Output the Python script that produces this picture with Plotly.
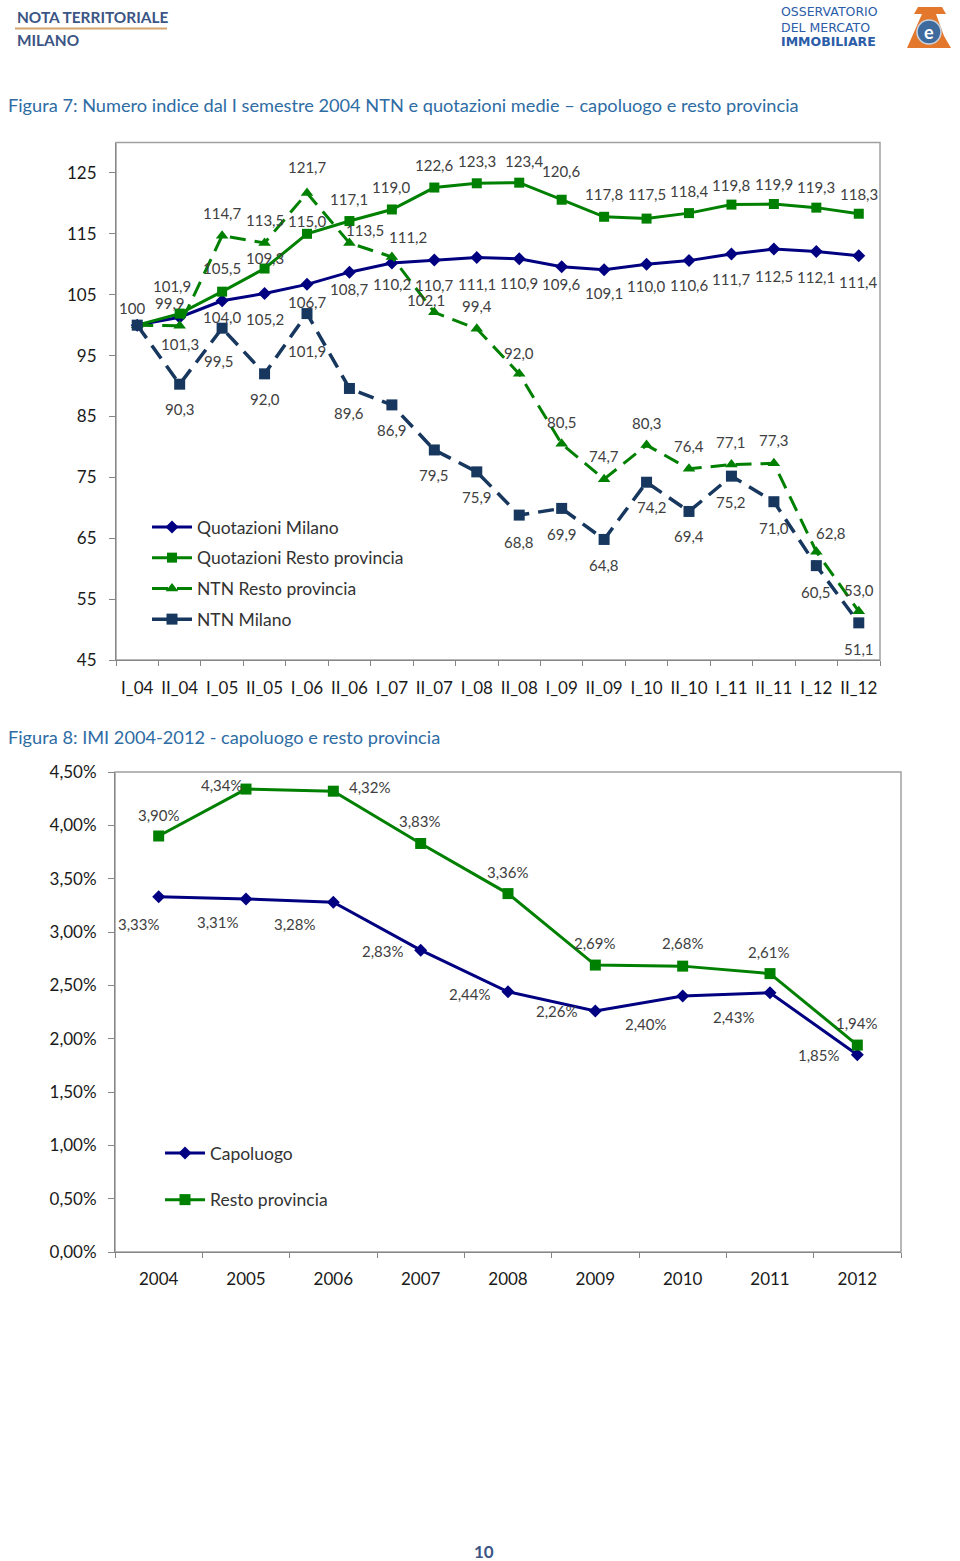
import plotly.graph_objects as go

# ---------------- DATA ----------------
semesters = ["I_04", "II_04", "I_05", "II_05", "I_06", "II_06", "I_07", "II_07", "I_08",
             "II_08", "I_09", "II_09", "I_10", "II_10", "I_11", "II_11", "I_12", "II_12"]
quot_milano = [100, 101.3, 104.0, 105.2, 106.7, 108.7, 110.2, 110.7, 111.1,
               110.9, 109.6, 109.1, 110.0, 110.6, 111.7, 112.5, 112.1, 111.4]
quot_resto = [100, 101.9, 105.5, 109.3, 115.0, 117.1, 119.0, 122.6, 123.3,
              123.4, 120.6, 117.8, 117.5, 118.4, 119.8, 119.9, 119.3, 118.3]
ntn_resto = [100, 99.9, 114.7, 113.5, 121.7, 113.5, 111.2, 102.1, 99.4,
             92.0, 80.5, 74.7, 80.3, 76.4, 77.1, 77.3, 62.8, 53.0]
ntn_milano = [100, 90.3, 99.5, 92.0, 101.9, 89.6, 86.9, 79.5, 75.9,
              68.8, 69.9, 64.8, 74.2, 69.4, 75.2, 71.0, 60.5, 51.1]
y1_ticks = [45, 55, 65, 75, 85, 95, 105, 115, 125]

years = ["2004", "2005", "2006", "2007", "2008", "2009", "2010", "2011", "2012"]
imi_capoluogo = [3.33, 3.31, 3.28, 2.83, 2.44, 2.26, 2.40, 2.43, 1.85]
imi_resto = [3.90, 4.34, 4.32, 3.83, 3.36, 2.69, 2.68, 2.61, 1.94]
y2_ticks = [0, 0.5, 1.0, 1.5, 2.0, 2.5, 3.0, 3.5, 4.0, 4.5]

# ---------------- HELPERS ----------------
W, H = 960, 1561
def px(x):
    return x / W
def py(y):
    return 1 - y / H

def f1(v):
    return f"{v:.1f}".replace(".", ",")
def fp(v):
    return f"{v:.2f}".replace(".", ",") + "%"

FONT = "Lato"
LABEL_FONT = dict(family=FONT, size=15, color="#404040")
NAVY = "#000080"
GREEN = "#008000"
DARKBLUE = "#17375E"
DASH = "16px,9px"

fig = go.Figure()

# ---------------- CHART 1 ----------------
series1 = [
    ("Quotazioni Milano", quot_milano, NAVY, "diamond", 10, "solid", 3),
    ("Quotazioni Resto provincia", quot_resto, GREEN, "square", 10, "solid", 3),
    ("NTN Resto provincia", ntn_resto, GREEN, "triangle-up", 11, DASH, 3),
    ("NTN Milano", ntn_milano, DARKBLUE, "square", 11, DASH, 3.5),
]
for i, (name, vals, col, sym, msz, dash, lw) in enumerate(series1):
    fig.add_trace(go.Scatter(
        x=semesters, y=vals, mode="lines+markers", name=name,
        line=dict(color=col, width=lw, dash=dash),
        marker=dict(symbol=sym, size=msz, color=col),
        xaxis="x", yaxis="y", legend="legend", legendgroup=f"g{i}",
        cliponaxis=False,
    ))

# ---------------- CHART 2 ----------------
series2 = [
    ("Capoluogo", imi_capoluogo, NAVY, "diamond", 10),
    ("Resto provincia", imi_resto, GREEN, "square", 11),
]
for i, (name, vals, col, sym, msz) in enumerate(series2):
    fig.add_trace(go.Scatter(
        x=years, y=vals, mode="lines+markers", name=name,
        line=dict(color=col, width=3),
        marker=dict(symbol=sym, size=msz, color=col),
        xaxis="x2", yaxis="y2", legend="legend2", legendgroup=f"h{i}",
        cliponaxis=False,
    ))

# ---------------- DATA LABELS (pixel offsets of label centre from point) ----------------
n = len(semesters)
off_milano = [(0, d) for d in [0, 27, 16, 26, 18, 17, 21, 25, 26, 24, 17, 23, 22, 24, 25, 27, 26, 26]]
off_resto = [(0, d) for d in [-17, -28, -24, -11, -13, -22, -22, -23, -22, -22, -29, -23, -25, -22, -20, -20, -21, -20]]
off_resto[0] = (-5, -17)
off_resto[1] = (-8, -28)
off_resto[9] = (5, -22)
off_ntnr = [(0, d) for d in [0, -23, -23, -23, -26, -13, -20, -12, -23, -21, -22, -23, -22, -23, -23, -23, -19, -21]]
off_ntnr[1] = (-10, -23)
off_ntnr[5] = (16, -13)
off_ntnr[6] = (16, -20)
off_ntnr[7] = (-8, -12)
off_ntnr[16] = (15, -19)
off_ntnm = [(0, d) for d in [0, 25, 33, 25, 37, 25, 25, 25, 25, 27, 26, 26, 25, 25, 26, 26, 26, 26]]
off_ntnm[2] = (-3, 33)
off_ntnm[12] = (5, 25)

label_specs = [
    (quot_milano, off_milano, 1),
    (quot_resto, off_resto, 0),
    (ntn_resto, off_ntnr, 1),
    (ntn_milano, off_ntnm, 1),
]
annots = []
for vals, offs, start in label_specs:
    for i in range(start, n):
        v = vals[i]
        txt = "100" if (i == 0) else f1(v)
        dx, dy = offs[i]
        annots.append(dict(xref="x", yref="y", x=i, y=v, text=txt,
                           xshift=dx, yshift=-dy, showarrow=False,
                           xanchor="center", yanchor="middle", font=LABEL_FONT))

off_res2 = [(0, -21), (-24, -4), (37, -4), (-1, -22), (0, -22), (0, -22), (0, -23), (-1, -22), (0, -22)]
off_cap2 = [(-20, 27), (-28, 23), (-38, 22), (-38, 1), (-38, 2), (-38, 0), (-37, 28), (-36, 24), (-38, 0)]
for vals, offs in [(imi_capoluogo, off_cap2), (imi_resto, off_res2)]:
    for i, v in enumerate(vals):
        dx, dy = offs[i]
        annots.append(dict(xref="x2", yref="y2", x=i, y=v, text=fp(v),
                           xshift=dx, yshift=-dy, showarrow=False,
                           xanchor="center", yanchor="middle", font=LABEL_FONT))

AXCOL = "#868686"
TICKFONT = dict(family=FONT, size=17, color="#1a1a1a")

fig.update_layout(
    width=W, height=H, autosize=False,
    margin=dict(l=0, r=0, t=0, b=0, autoexpand=False),
    paper_bgcolor="white", plot_bgcolor="white",
    font=dict(family=FONT, color="#333333"),
    showlegend=True,
    xaxis=dict(domain=[px(116), px(880)], anchor="y", type="category",
               tickson="boundaries", ticks="outside", ticklen=5, tickcolor=AXCOL,
               showline=True, linecolor=AXCOL, linewidth=1, showgrid=False,
               tickangle=0, tickmode="linear", dtick=1, range=[-0.5, 17.5],
               tickfont=TICKFONT, ticklabelstandoff=13),
    yaxis=dict(domain=[py(660), py(142.5)], anchor="x", range=[45, 130],
               tickmode="array", tickvals=y1_ticks, ticktext=[str(t) for t in y1_ticks],
               ticks="outside", ticklen=6, tickcolor=AXCOL,
               showline=True, linecolor=AXCOL, linewidth=1, showgrid=False,
               zeroline=False, tickfont=TICKFONT, ticklabelstandoff=9),
    xaxis2=dict(domain=[px(115), px(901)], anchor="y2", type="category",
                tickson="boundaries", ticks="outside", ticklen=5, tickcolor=AXCOL,
                showline=True, linecolor=AXCOL, linewidth=1, showgrid=False,
                tickangle=0, tickmode="linear", dtick=1, range=[-0.5, 8.5],
                tickfont=TICKFONT, ticklabelstandoff=12),
    yaxis2=dict(domain=[py(1252), py(772)], anchor="x2", range=[0, 4.5],
                tickmode="array", tickvals=y2_ticks,
                ticktext=[fp(t) for t in y2_ticks],
                ticks="outside", ticklen=6, tickcolor=AXCOL,
                showline=True, linecolor=AXCOL, linewidth=1, showgrid=False,
                zeroline=False, tickfont=TICKFONT, ticklabelstandoff=8),
    legend=dict(x=px(147), y=py(509), xanchor="left", yanchor="top",
                bgcolor="rgba(0,0,0,0)", font=dict(family=FONT, size=17.5, color="#333333"),
                tracegroupgap=5, traceorder="grouped", itemwidth=40),
    legend2=dict(x=px(160), y=py(1135), xanchor="left", yanchor="top",
                 bgcolor="rgba(0,0,0,0)", font=dict(family=FONT, size=17.5, color="#333333"),
                 tracegroupgap=21, traceorder="grouped", itemwidth=40),
)

# plot area borders and page decorations
shapes = [
    dict(type="rect", xref="x domain", yref="y domain", x0=0, x1=1, y0=0, y1=1,
         line=dict(color="#A0A0A0", width=1.5), layer="below"),
    dict(type="rect", xref="x2 domain", yref="y2 domain", x0=0, x1=1, y0=0, y1=1,
         line=dict(color="#A0A0A0", width=1.5), layer="below"),
    dict(type="line", xref="paper", yref="paper", x0=px(15), x1=px(167),
         y0=py(28.5), y1=py(28.5), line=dict(color="#D4A56E", width=2)),
    dict(type="path", xref="paper", yref="paper",
         path=f"M {px(907)},{py(48)} L {px(951)},{py(48)} L {px(944)},{py(36)} "
              f"L {px(936)},{py(14)} L {px(946)},{py(14)} L {px(942)},{py(7)} "
              f"L {px(918)},{py(7)} L {px(914)},{py(14)} L {px(922)},{py(14)} Z",
         fillcolor="#E3772B", line=dict(width=0)),
    dict(type="circle", xref="paper", yref="paper",
         x0=px(917), x1=px(941), y0=py(44), y1=py(20),
         fillcolor="#3E6A9E", line=dict(color="#C9D3E0", width=1.5)),
]
fig.update_layout(shapes=shapes)

HEAD = "#3B5584"
TITLE = "#2E6CA4"
LOGO = "#2B5CA8"
LOGO_FONT = "DejaVu Sans"
page_texts = [
    dict(text="<b>NOTA TERRITORIALE</b>", x=px(15), y=py(17), font=dict(family=FONT, size=15.4, color=HEAD)),
    dict(text="<b>MILANO</b>", x=px(15), y=py(40), font=dict(family=FONT, size=15.4, color=HEAD)),
    dict(text="OSSERVATORIO", x=px(779), y=py(12),
         font=dict(family=LOGO_FONT, size=12.5, color=LOGO)),
    dict(text="DEL MERCATO", x=px(779), y=py(27),
         font=dict(family=LOGO_FONT, size=12.5, color=LOGO)),
    dict(text="<b>IMMOBILIARE</b>", x=px(779), y=py(42),
         font=dict(family=LOGO_FONT, size=12.5, color=LOGO)),
    dict(text="<b>e</b>", x=px(929), y=py(32), xanchor="center",
         font=dict(family=FONT, size=18, color="white")),
    dict(text="Figura 7: Numero indice dal I semestre 2004 NTN e quotazioni medie \u2013 capoluogo e resto provincia",
         x=px(6), y=py(105), font=dict(family=FONT, size=18.2, color=TITLE)),
    dict(text="Figura 8: IMI 2004-2012 - capoluogo e resto provincia",
         x=px(6), y=py(737), font=dict(family=FONT, size=18.2, color=TITLE)),
    dict(text="<b>10</b>", x=px(484), y=py(1551), xanchor="center",
         font=dict(family=FONT, size=17, color=HEAD)),
]
for a in page_texts:
    a.setdefault("xanchor", "left")
    annots.append(dict(xref="paper", yref="paper", yanchor="middle", showarrow=False, **a))

fig.update_layout(annotations=annots)

fig.write_html("out.html", config={"displayModeBar": False},
               post_script="document.body.style.margin='0px';")
